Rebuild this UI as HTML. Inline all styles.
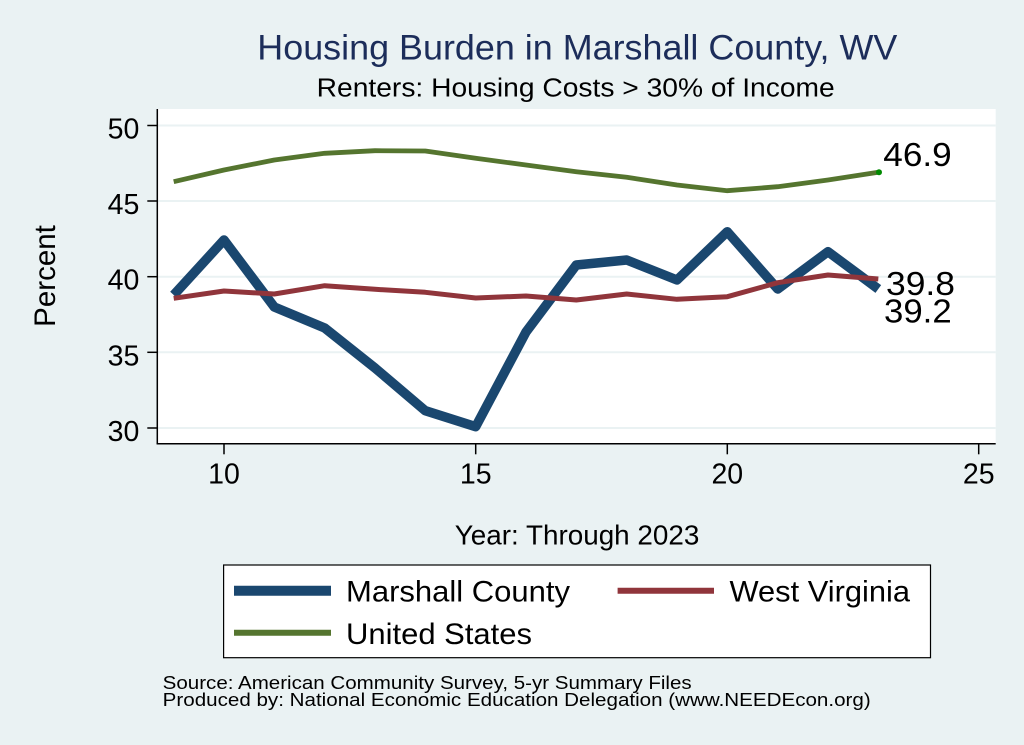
<!DOCTYPE html>
<html>
<head>
<meta charset="utf-8">
<style>
  html,body{margin:0;padding:0;background:#eaf2f3;}
  svg{display:block;}
  text{font-family:"Liberation Sans", Arial, sans-serif;}
</style>
</head>
<body>
<svg width="1024" height="745" viewBox="0 0 1024 745" xmlns="http://www.w3.org/2000/svg">
  <rect x="0" y="0" width="1024" height="745" fill="#eaf2f3"/>
  <!-- plot region -->
  <rect x="157.3" y="109" width="838.4" height="335" fill="#ffffff"/>
  <!-- gridlines -->
  <g stroke="#eaf2f3" stroke-width="2">
    <line x1="158" y1="125.5" x2="995.7" y2="125.5"/>
    <line x1="158" y1="201" x2="995.7" y2="201"/>
    <line x1="158" y1="276.7" x2="995.7" y2="276.7"/>
    <line x1="158" y1="352.3" x2="995.7" y2="352.3"/>
    <line x1="158" y1="428" x2="995.7" y2="428"/>
  </g>
  <!-- axes -->
  <g stroke="#000" stroke-width="1.5" fill="none">
    <line x1="157.3" y1="109" x2="157.3" y2="444.3"/>
    <line x1="156.6" y1="443.7" x2="995.7" y2="443.7"/>
    <line x1="147.3" y1="125.5" x2="157.3" y2="125.5"/>
    <line x1="147.3" y1="201" x2="157.3" y2="201"/>
    <line x1="147.3" y1="276.7" x2="157.3" y2="276.7"/>
    <line x1="147.3" y1="352.3" x2="157.3" y2="352.3"/>
    <line x1="147.3" y1="428" x2="157.3" y2="428"/>
    <line x1="224" y1="443.7" x2="224" y2="454.3"/>
    <line x1="475.7" y1="443.7" x2="475.7" y2="454.3"/>
    <line x1="727.3" y1="443.7" x2="727.3" y2="454.3"/>
    <line x1="978.7" y1="443.7" x2="978.7" y2="454.3"/>
  </g>
  <!-- y tick labels -->
  <g font-size="28.5" fill="#000" text-anchor="end">
    <text x="139.3" y="138.5">50</text>
    <text x="139.3" y="214">45</text>
    <text x="139.3" y="289.7">40</text>
    <text x="139.3" y="365.3">35</text>
    <text x="139.3" y="441">30</text>
  </g>
  <!-- x tick labels -->
  <g font-size="28.5" fill="#000" text-anchor="middle">
    <text x="224" y="483.3">10</text>
    <text x="475.7" y="483.3">15</text>
    <text x="727.3" y="483.3">20</text>
    <text x="978.7" y="483.3">25</text>
  </g>
  <!-- axis titles -->
  <text transform="translate(55,276) rotate(-90)" font-size="29.5" text-anchor="middle" fill="#000">Percent</text>
  <text x="454.8" y="544.3" font-size="27.5" fill="#000" textLength="244.5" lengthAdjust="spacingAndGlyphs">Year: Through 2023</text>
  <!-- titles -->
  <text x="257.3" y="59.3" font-size="35" fill="#1c2d5a" textLength="640" lengthAdjust="spacingAndGlyphs">Housing Burden in Marshall County, WV</text>
  <text x="316.7" y="96.7" font-size="25.5" fill="#000" textLength="518" lengthAdjust="spacingAndGlyphs">Renters: Housing Costs &gt; 30% of Income</text>

  <!-- series -->
  <polyline fill="none" stroke="#55752f" stroke-width="4.8" stroke-linejoin="round"
    points="173.7,181.7 224,170 274.3,160 324.7,153.3 375,150.7 425.3,151 475.7,158.3 526,165 576.3,171.7 626.7,177.3 677,185 727.3,190.7 777.7,186.7 828,180 878.3,172.3"/>
  <circle cx="879" cy="172.3" r="3" fill="#008a00"/>
  <polyline fill="none" stroke="#1a476f" stroke-width="9.5" stroke-linejoin="round"
    points="173.7,295 224,240 274.3,307 324.7,328 375,368 425.3,410.7 475.7,426.7 526,332 576.3,265 626.7,260 677,280 727.3,231.7 777.7,289 828,251.7 878.3,289"/>
  <polyline fill="none" stroke="#90353b" stroke-width="5" stroke-linejoin="round"
    points="173.7,298.3 224,291 274.3,294 324.7,285.7 375,289.3 425.3,292.3 475.7,298 526,296 576.3,300 626.7,294 677,299.3 727.3,296.7 777.7,282.7 828,275 878.3,279"/>

  <!-- value labels -->
  <g font-size="33" fill="#000">
    <text x="883.3" y="166" textLength="68.4" lengthAdjust="spacingAndGlyphs">46.9</text>
    <text x="886" y="295" textLength="69" lengthAdjust="spacingAndGlyphs">39.8</text>
    <text x="884" y="322.7" textLength="67.7" lengthAdjust="spacingAndGlyphs">39.2</text>
  </g>

  <!-- legend -->
  <rect x="223.6" y="565" width="706.9" height="92.7" fill="#ffffff" stroke="#000" stroke-width="1.2"/>
  <line x1="234" y1="590.7" x2="331" y2="590.7" stroke="#1a476f" stroke-width="10"/>
  <line x1="617.6" y1="590.7" x2="714" y2="590.7" stroke="#90353b" stroke-width="6"/>
  <line x1="234" y1="632.7" x2="331" y2="632.7" stroke="#55752f" stroke-width="6"/>
  <g font-size="29.5" fill="#000">
    <text x="346" y="601.7" textLength="224" lengthAdjust="spacingAndGlyphs">Marshall County</text>
    <text x="729.5" y="601.7" textLength="180.5" lengthAdjust="spacingAndGlyphs">West Virginia</text>
    <text x="346" y="644" textLength="186" lengthAdjust="spacingAndGlyphs">United States</text>
  </g>

  <!-- notes -->
  <g font-size="18" fill="#000">
    <text x="162.7" y="689" textLength="529" lengthAdjust="spacingAndGlyphs">Source: American Community Survey, 5-yr Summary Files</text>
    <text x="162.7" y="706" textLength="708" lengthAdjust="spacingAndGlyphs">Produced by: National Economic Education Delegation (www.NEEDEcon.org)</text>
  </g>
</svg>
</body>
</html>
